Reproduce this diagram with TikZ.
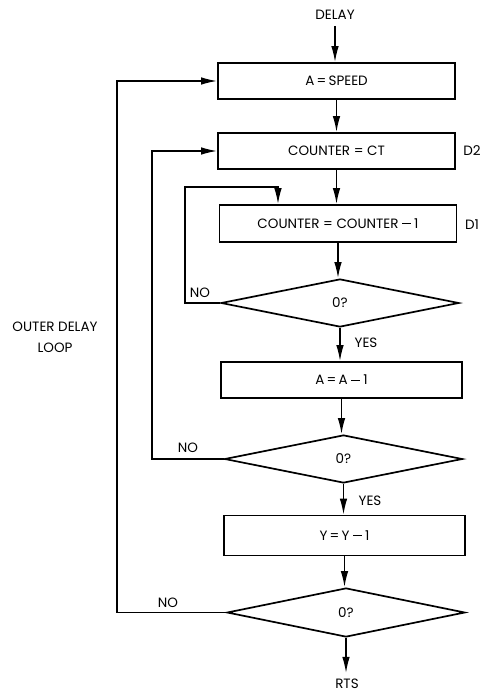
\documentclass[tikz,border=0pt]{standalone}
\usepackage{fontspec}
\setmainfont{Poppins}
\usetikzlibrary{shapes.geometric,arrows.meta}
\newcommand{\mn}{\rule[0.3em]{0.62em}{0.075em}}
\begin{document}
\begin{tikzpicture}[x=1pt,y=-1pt,
  every node/.style={font=\fontsize{13.5}{15}\selectfont},
  procbox/.style={draw,line width=1.7pt,rectangle,minimum width=237pt,minimum height=36pt,inner sep=0pt},
  decide/.style={draw,line width=1.7pt,diamond,minimum width=238pt,minimum height=48pt,inner sep=0pt},
  lbl/.style={inner sep=0pt},
  arr/.style={line width=1.5pt,-{Latex[length=16pt,width=7.5pt]}}]
\useasboundingbox (0,0) rectangle (490,693);
\node[lbl] (delay) at (335,15) {DELAY};
\node[procbox] (b1) at (336.5,81) {A\,=\,SPEED};
\node[procbox] (b2) at (336.5,151) {COUNTER = CT};
\node[procbox,minimum height=37pt] (b3) at (338,223.5) {COUNTER = COUNTER \mn\ 1};
\node[decide] (d1) at (340,303) {0?};
\node[procbox,minimum width=241pt] (b4) at (341.5,380) {A\,=\,A \mn\ 1};
\node[decide] (d2) at (343.5,459) {0?};
\node[procbox,minimum width=241pt,minimum height=40pt] (b5) at (344.5,535.5) {Y\,=\,Y \mn\ 1};
\node[decide,minimum height=49pt] (d3) at (346,612.5) {0?};
\node[lbl] (rts) at (347,684) {RTS};
\node[lbl] (ld2) at (472,151) {D2};
\node[lbl] (ld1) at (472,225) {D1};
\node[lbl] (no1) at (200,293) {NO};
\node[lbl] (no2) at (188,448) {NO};
\node[lbl] (no3) at (168,603) {NO};
\node[lbl] (yes1) at (366,343) {YES};
\node[lbl] (yes2) at (370,501) {YES};
\node[lbl,align=center,font=\fontsize{13.5}{21}\selectfont] (outer) at (55,337) {OUTER DELAY\\LOOP};
% main flow
\draw[arr] ([yshift=-6pt]delay.south) -- (delay.south |- b1.north);
\draw[arr] (b1.south) -- (b1.south |- b2.north);
\draw[arr] (b2.south) -- (b2.south |- b3.north);
\draw[arr] (b3.south) -- (b3.south |- d1.north);
\draw[arr] (d1.south) -- (d1.south |- b4.north);
\draw[arr] (b4.south) -- (b4.south |- d2.north);
\draw[arr] (d2.south) -- (d2.south |- b5.north);
\draw[arr] (b5.south) -- (b5.south |- d3.north);
\draw[arr] (d3.south) -- ([yshift=6pt]d3.south |- rts.north);
% loops
\draw[arr] (d1.west) -| (185,187) -| ([xshift=-60pt]b3.north);
\draw[arr] (d2.west) -| (152,151) -- (b2.west);
\draw[arr] (d3.west) -| (117,81) -- (b1.west);
\end{tikzpicture}
\end{document}
